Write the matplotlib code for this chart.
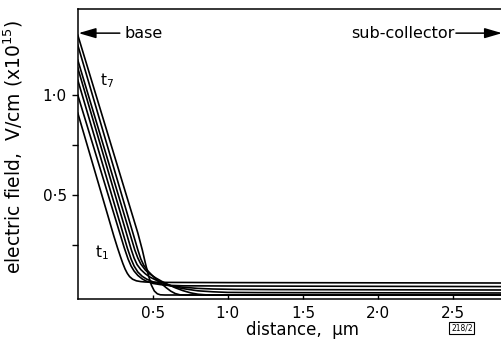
import numpy as np
import matplotlib.pyplot as plt

# field profiles E(x) at successive times t1..t7
# (distance in um, field in units of 1e15 V/cm)
x_t1 = [0, 0.20, 0.24, 0.265, 0.285, 0.30, 0.315, 0.33, 0.345, 0.365, 0.39, 0.42, 0.45, 0.6, 1.0, 2.85]
e_t1 = [0.91, 0.398, 0.295, 0.235, 0.19, 0.158, 0.13, 0.108, 0.092, 0.079, 0.071, 0.067, 0.065, 0.063, 0.062, 0.06]

x_t2 = [0, 0.25, 0.31, 0.335, 0.355, 0.375, 0.40, 0.43, 0.46, 0.50, 0.55, 0.62, 0.7, 1.0, 2.85]
e_t2 = [1.0, 0.383, 0.235, 0.18, 0.145, 0.12, 0.098, 0.08, 0.068, 0.058, 0.052, 0.048, 0.046, 0.045, 0.042]

x_t3 = [0, 0.33, 0.355, 0.375, 0.40, 0.43, 0.46, 0.50, 0.55, 0.6, 0.7, 0.8, 0.9, 1.05, 1.3, 2.85]
e_t3 = [1.075, 0.235, 0.18, 0.145, 0.115, 0.093, 0.079, 0.066, 0.055, 0.048, 0.039, 0.033, 0.03, 0.028, 0.027, 0.025]

x_t4 = [0, 0.355, 0.375, 0.395, 0.42, 0.45, 0.48, 0.52, 0.56, 0.6, 0.65, 0.7, 0.8, 0.9, 1.0, 1.2, 2.85]
e_t4 = [1.135, 0.23, 0.185, 0.152, 0.127, 0.106, 0.09, 0.075, 0.062, 0.051, 0.04, 0.032, 0.021, 0.016, 0.013, 0.012, 0.01]

x_t5 = [0, 0.38, 0.40, 0.42, 0.45, 0.48, 0.52, 0.56, 0.6, 0.65, 0.7, 0.75, 0.8, 0.85, 0.9, 2.85]
e_t5 = [1.175, 0.225, 0.185, 0.155, 0.125, 0.105, 0.085, 0.068, 0.053, 0.036, 0.022, 0.011, 0.004, 0.001, 0.0, 0.0]

x_t6 = [0, 0.40, 0.42, 0.44, 0.47, 0.50, 0.53, 0.56, 0.59, 0.62, 0.65, 0.68, 0.72, 2.85]
e_t6 = [1.25, 0.226, 0.18, 0.148, 0.118, 0.095, 0.074, 0.055, 0.036, 0.019, 0.007, 0.001, 0.0, 0.0]

x_t7 = [0, 0.40, 0.43, 0.45, 0.47, 0.49, 0.51, 0.53, 0.55, 0.58, 2.85]
e_t7 = [1.30, 0.31, 0.225, 0.16, 0.1, 0.05, 0.02, 0.006, 0.001, 0.0, 0.0]

curves = [(x_t1, e_t1), (x_t2, e_t2), (x_t3, e_t3), (x_t4, e_t4),
          (x_t5, e_t5), (x_t6, e_t6), (x_t7, e_t7)]

x_ticks = [0.5, 1.0, 1.5, 2.0, 2.5]
x_tick_labels = ["0·5", "1·0", "1·5", "2·0", "2·5"]
y_ticks = [0.5, 1.0]
y_tick_labels = ["0·5", "1·0"]
y_minor = [0.25, 0.75]

fig = plt.figure(figsize=(5.02, 3.39), dpi=100)
ax = fig.add_axes([0.155, 0.118, 0.845, 0.855])

for xs, es in curves:
    ax.plot(xs, es, color="black", lw=1.2, solid_joinstyle="round")

ax.set_xlim(0, 2.827)
ax.set_ylim(-0.02, 1.43)

ax.spines["right"].set_visible(False)
for s in ["left", "bottom", "top"]:
    ax.spines[s].set_linewidth(1.1)

ax.set_xticks(x_ticks)
ax.set_xticklabels(x_tick_labels, fontsize=11)
ax.set_yticks(y_ticks)
ax.set_yticklabels(y_tick_labels, fontsize=11)
ax.set_yticks(y_minor, minor=True)
ax.tick_params(axis="x", direction="in", length=3, width=1, pad=5)
ax.tick_params(axis="y", which="both", direction="out", length=4, width=1, pad=4)

ax.set_xlabel("distance,  µm", fontsize=12)
ax.xaxis.set_label_coords(0.53, -0.075)
ax.set_ylabel("electric field,  V/cm (x10$^{15}$)", fontsize=13.5)
ax.yaxis.set_label_coords(-0.125, 0.525)

# region markers
arrow = dict(arrowstyle="-|>,head_length=0.75,head_width=0.22", color="black",
             lw=1.1, mutation_scale=14, shrinkA=0, shrinkB=0)
ax.annotate("", xy=(0.005, 1.31), xytext=(0.28, 1.31), arrowprops=arrow)
ax.text(0.31, 1.31, "base", fontsize=11.5, va="center", ha="left")
ax.annotate("", xy=(2.827, 1.31), xytext=(2.52, 1.31), arrowprops=arrow)
ax.text(2.51, 1.31, "sub-collector", fontsize=11.5, va="center", ha="right")

ax.text(0.145, 1.07, "t$_7$", fontsize=11, va="center", ha="left")
ax.text(0.16, 0.21, "t$_1$", fontsize=11, va="center", ha="center")

fig.text(0.92, 0.032, "218/2", fontsize=5.5, ha="center", va="center",
         bbox=dict(boxstyle="square,pad=0.2", fc="white", ec="black", lw=0.8))

fig.savefig("out.png", dpi=100)
